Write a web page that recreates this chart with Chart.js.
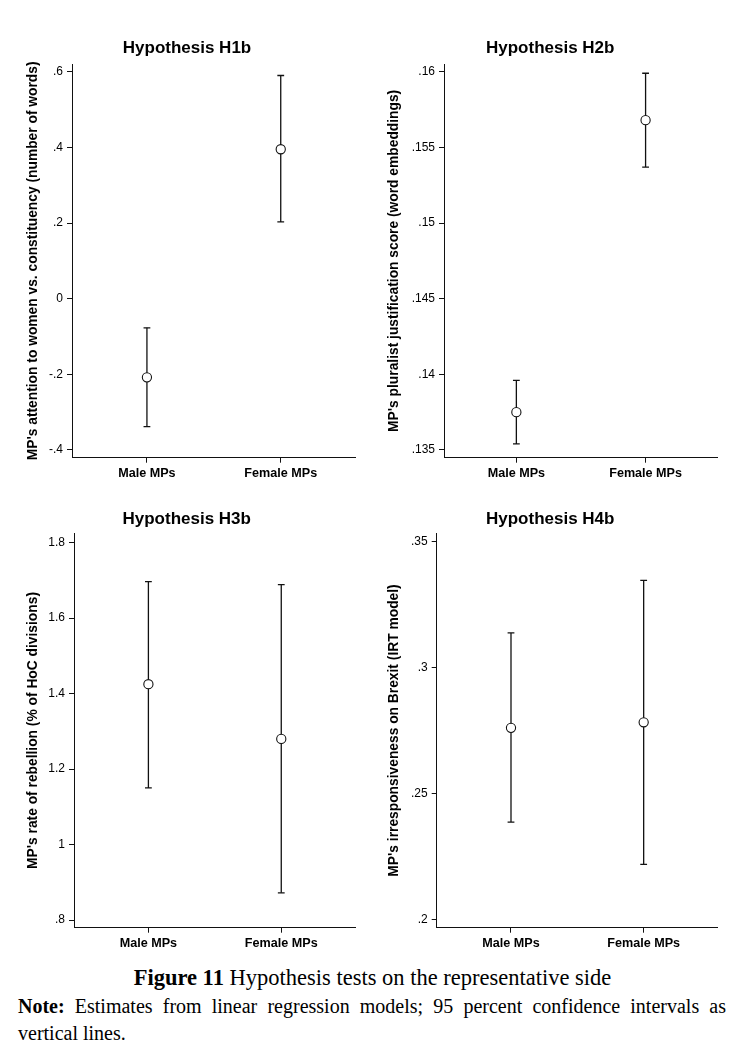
<!DOCTYPE html>
<html><head><meta charset="utf-8">
<script src="https://cdn.jsdelivr.net/npm/chart.js@4.4.0/dist/chart.umd.min.js"></script>
<style>
html,body{margin:0;padding:0;background:#fff;width:748px;height:1054px;overflow:hidden}
canvas{position:absolute}
#caption{position:absolute;left:0;top:965px;width:745px;text-align:center;font-family:"Liberation Serif",serif;font-size:22.5px;color:#000;line-height:26px;white-space:nowrap}
.note{position:absolute;left:18px;width:708px;font-family:"Liberation Serif",serif;font-size:20px;color:#000;line-height:27px;white-space:nowrap}
#note1{top:993px;text-align:justify;text-align-last:justify;white-space:normal}
#note2{top:1020px}
</style></head>
<body>
<canvas id="c1" width="374" height="490" style="left:0;top:0"></canvas>
<canvas id="c2" width="374" height="490" style="left:374px;top:0"></canvas>
<canvas id="c3" width="374" height="470" style="left:0;top:490px"></canvas>
<canvas id="c4" width="374" height="470" style="left:374px;top:490px"></canvas>
<div id="caption"><b>Figure 11</b> Hypothesis tests on the representative side</div>
<div class="note" id="note1"><b>Note:</b> Estimates from linear regression models; 95 percent confidence intervals as</div>
<div class="note" id="note2">vertical lines.</div>
<script>
const categories = ['Male MPs', 'Female MPs'];
const categoryPos = [1, 2];

const panelTitles = ['Hypothesis H1b', 'Hypothesis H2b', 'Hypothesis H3b', 'Hypothesis H4b'];
const yTitles = [
  "MP's attention to women vs. constituency (number of words)",
  "MP's pluralist justification score (word embeddings)",
  "MP's rate of rebellion (% of HoC divisions)",
  "MP's irresponsiveness on Brexit (IRT model)"
];

const h1bEstimate = [-0.208, 0.395];
const h1bLower = [-0.338, 0.203];
const h1bUpper = [-0.077, 0.590];
const h1bTicks = [-0.4, -0.2, 0, 0.2, 0.4, 0.6];
const h1bTickLabels = ['-.4', '-.2', '0', '.2', '.4', '.6'];

const h2bEstimate = [0.1375, 0.1568];
const h2bLower = [0.1354, 0.1537];
const h2bUpper = [0.1396, 0.1599];
const h2bTicks = [0.135, 0.14, 0.145, 0.15, 0.155, 0.16];
const h2bTickLabels = ['.135', '.14', '.145', '.15', '.155', '.16'];

const h3bEstimate = [1.425, 1.280];
const h3bLower = [1.150, 0.872];
const h3bUpper = [1.697, 1.689];
const h3bTicks = [0.8, 1, 1.2, 1.4, 1.6, 1.8];
const h3bTickLabels = ['.8', '1', '1.2', '1.4', '1.6', '1.8'];

const h4bEstimate = [0.2761, 0.2783];
const h4bLower = [0.2388, 0.2220];
const h4bUpper = [0.3137, 0.3345];
const h4bTicks = [0.2, 0.25, 0.3, 0.35];
const h4bTickLabels = ['.2', '.25', '.3', '.35'];

const FONT = "'Liberation Sans', Arial, Helvetica, sans-serif";
const INK = '#111';

function makePanel(id, title, yTitle, est, lo, hi, ticks, tickLabels, yMin, yMax, lay) {
  const datasets = [{
    data: categoryPos.map((x, i) => ({x: x, y: est[i]})),
    showLine: false,
    pointStyle: 'circle',
    pointRadius: 4.6,
    pointBorderWidth: 1.1,
    pointBorderColor: INK,
    pointBackgroundColor: '#fff'
  }];
  categoryPos.forEach((x, i) => {
    datasets.push({
      data: [{x: x, y: lo[i]}, {x: x, y: hi[i]}],
      showLine: true,
      borderColor: INK,
      borderWidth: 1.3,
      pointStyle: 'line',
      pointRadius: 3.4,
      pointBorderWidth: 1.3,
      pointBorderColor: INK
    });
  });
  new Chart(document.getElementById(id), {
    type: 'scatter',
    data: {datasets: datasets},
    options: {
      responsive: false,
      animation: false,
      events: [],
      layout: {padding: {left: lay.pl, right: lay.pr, top: 0, bottom: lay.pb}},
      plugins: {
        legend: {display: false},
        tooltip: {enabled: false},
        title: {
          display: true, text: title, color: '#000',
          font: {family: FONT, size: 17, weight: 'bold'},
          padding: {top: lay.tt, bottom: lay.tb}
        }
      },
      scales: {
        x: {
          type: 'linear', min: 0.44, max: 2.555,
          afterBuildTicks: s => { s.ticks = categoryPos.map(v => ({value: v})); },
          afterFit: s => { s.height = lay.xh; },
          ticks: {
            callback: (v, i) => categories[i],
            color: '#000', autoSkip: false, maxRotation: 0, padding: 3,
            font: {family: FONT, size: 12.6, weight: 'bold'}
          },
          grid: {drawOnChartArea: false, drawTicks: true, tickLength: 5, color: INK, lineWidth: 1},
          border: {display: true, color: INK, width: 1}
        },
        y: {
          type: 'linear', min: yMin, max: yMax,
          afterBuildTicks: s => { s.ticks = ticks.map(v => ({value: v})); },
          afterFit: s => { s.width = lay.yw; },
          ticks: {
            callback: (v, i) => tickLabels[i],
            color: '#000', autoSkip: false, padding: 4,
            font: {family: FONT, size: 12}
          },
          title: {
            display: true, text: yTitle, color: '#000',
            font: {family: FONT, size: 13.8, weight: 'bold'},
            padding: {top: lay.ytp, bottom: 0}
          },
          grid: {drawOnChartArea: false, drawTicks: true, tickLength: 5, color: INK, lineWidth: 1},
          border: {display: true, color: INK, width: 1}
        }
      }
    }
  });
}

makePanel('c1', panelTitles[0], yTitles[0], h1bEstimate, h1bLower, h1bUpper, h1bTicks, h1bTickLabels,
  -0.4204, 0.6204, {pl: 19, pr: 19, pb: 4.3, xh: 28, yw: 53, tt: 38.5, tb: 5.1, ytp: 6});
makePanel('c2', panelTitles[1], yTitles[1], h2bEstimate, h2bLower, h2bUpper, h2bTicks, h2bTickLabels,
  0.13449, 0.16051, {pl: 9.1, pr: 30.7, pb: 4.3, xh: 28, yw: 60.9, tt: 38.5, tb: 5.1, ytp: 2.6});
makePanel('c3', panelTitles[2], yTitles[2], h3bEstimate, h3bLower, h3bUpper, h3bTicks, h3bTickLabels,
  0.7796, 1.8249, {pl: 18.4, pr: 19, pb: 4.3, xh: 28, yw: 55.6, tt: 18.8, tb: 4.1, ytp: 6.6});
makePanel('c4', panelTitles[3], yTitles[3], h4bEstimate, h4bLower, h4bUpper, h4bTicks, h4bTickLabels,
  0.19695, 0.35317, {pl: 9.1, pr: 30.7, pb: 4.3, xh: 28, yw: 53.6, tt: 18.8, tb: 4.1, ytp: 2.9});
</script>
</body></html>
